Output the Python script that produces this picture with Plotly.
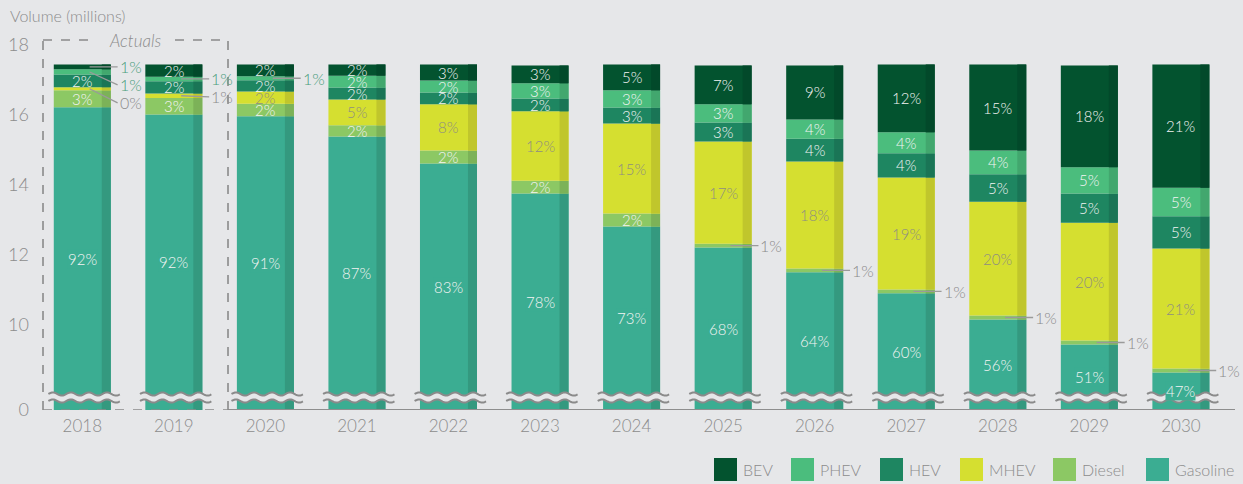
import numpy as np
import plotly.graph_objects as go

# ---------------- data (volumes in millions) ----------------
years = ["2018", "2019", "2020", "2021", "2022", "2023", "2024",
         "2025", "2026", "2027", "2028", "2029", "2030"]

gasoline = [16.21, 16.00, 15.95, 15.37, 14.60, 13.74, 12.80, 12.20, 11.49, 10.89, 10.14, 9.43, 8.63]
diesel   = [0.48, 0.47, 0.36, 0.32, 0.37, 0.37, 0.37, 0.11, 0.11, 0.11, 0.12, 0.11, 0.11]
mhev     = [0.09, 0.13, 0.35, 0.74, 1.32, 1.98, 2.57, 2.92, 3.06, 3.20, 3.25, 3.37, 3.43]
hev      = [0.36, 0.35, 0.32, 0.34, 0.34, 0.37, 0.46, 0.54, 0.65, 0.69, 0.78, 0.83, 0.92]
phev     = [0.15, 0.13, 0.11, 0.34, 0.34, 0.43, 0.49, 0.52, 0.55, 0.60, 0.68, 0.75, 0.82]
bev      = [0.14, 0.35, 0.34, 0.32, 0.46, 0.51, 0.74, 1.11, 1.54, 1.94, 2.46, 2.91, 3.52]

# printed shares (%)
gasoline_pct = [92, 92, 91, 87, 83, 78, 73, 68, 64, 60, 56, 51, 47]
diesel_pct   = [3, 3, 2, 2, 2, 2, 2, 1, 1, 1, 1, 1, 1]
mhev_pct     = [0, 1, 2, 5, 8, 12, 15, 17, 18, 19, 20, 20, 21]
hev_pct      = [2, 2, 2, 2, 2, 2, 3, 3, 4, 4, 5, 5, 5]
phev_pct     = [1, 1, 1, 2, 2, 3, 3, 3, 4, 4, 4, 5, 5]
bev_pct      = [1, 2, 2, 2, 3, 3, 5, 7, 9, 12, 15, 18, 21]

y_tick_values = [10, 12, 14, 16, 18]
actuals_label = "Actuals"
y_title = "Volume (millions)"

# ---------------- styling ----------------
BG = "#e6e7e9"
GRAY = "#8c8c8c"
FONT = "Lato"
FW = 300
series = [  # bottom -> top
    dict(name="Gasoline", vals=gasoline, pct=gasoline_pct, color="#3bad92", side="#34997f", txt="#f4f4f4", out="#8c8c8c"),
    dict(name="Diesel",   vals=diesel,   pct=diesel_pct,   color="#8cc864", side="#7cb258", txt="#f4f4f4", out="#8c8c8c"),
    dict(name="MHEV",     vals=mhev,     pct=mhev_pct,     color="#d5df30", side="#c0c62c", txt="#8e8e80", out="#8c8c8c"),
    dict(name="HEV",      vals=hev,      pct=hev_pct,      color="#1e8661", side="#1a7556", txt="#f4f4f4", out="#4a9e7c"),
    dict(name="PHEV",     vals=phev,     pct=phev_pct,     color="#4bbd7d", side="#42a76e", txt="#f4f4f4", out="#4a9e7c"),
    dict(name="BEV",      vals=bev,      pct=bev_pct,      color="#03532f", side="#02492a", txt="#f4f4f4", out="#4a9e7c"),
]

W, H = 1243, 484
ML, MR, MT, MB = 42, 8, 35, 74
PW, PH = W - ML - MR, H - MT - MB
PX_Y = 35.0      # pixels per million
PX_X = 91.55     # pixels per category
FLOOR = 7.557    # value where the broken axis shows "0"
X0 = -0.44
y_range = [FLOOR, FLOOR + PH / PX_Y]
x_range = [X0, X0 + PW / PX_X]

def xpx(px):
    return X0 + (px - ML) / PX_X

def ypx(py):
    return y_range[1] - (py - MT) / PX_Y

def xp(px):
    return (px - ML) / PW

def yp(py):
    return (H - MB - py) / PH

BW = 57 / PX_X
SW = 9 / PX_X
idx = list(range(len(years)))

fig = go.Figure()
annotations = []
shapes = []

# ---------------- stacked bars ----------------
tops = [FLOOR] * len(years)
mids_all = []
for k, s in enumerate(series):
    if k == 0:
        bases = [FLOOR] * len(years)
        heights = [v - FLOOR for v in s["vals"]]
    else:
        bases = list(tops)
        heights = list(s["vals"])
    new_tops = [b + h for b, h in zip(bases, heights)]
    for w, off, col in ((BW, None, s["color"]), (SW, BW / 2 - SW, s["side"])):
        kw = dict(offset=off) if off is not None else {}
        fig.add_trace(go.Bar(
            x=idx, y=heights, base=bases, width=w, marker_color=col,
            marker_line_width=0, showlegend=False, name=s["name"],
            hoverinfo="skip", **kw))
    mids_all.append([(b + t) / 2 for b, t in zip(bases, new_tops)])
    tops = new_tops

# ---------------- value labels ----------------
outside = {}
for k, s in enumerate(series):
    for i in idx:
        mid = mids_all[k][i]
        label = f"{s['pct'][i]}%"
        if s["vals"][i] < 0.2:
            outside.setdefault(i, []).append((mid, label, s["out"]))
        else:
            extra = dict(bgcolor=s["color"], borderpad=0) if k == 0 else {}
            annotations.append(dict(
                x=i, y=mid, xref="x", yref="y", text=label, showarrow=False,
                xanchor="center", yanchor="middle",
                font=dict(family=FONT, size=15, color=s["txt"], weight=FW), **extra))

# thin segments: label to the right with a leader line, stacked top-down
for i, items in outside.items():
    items.sort(key=lambda t: -t[0])
    prev = None
    for mid, label, col in items:
        mid_py = MT + (y_range[1] - mid) * PX_Y
        lab_py = mid_py if prev is None else max(mid_py, prev + 18)
        prev = lab_py
        annotations.append(dict(
            x=i + 0.08, y=mid, xref="x", yref="y", text=label,
            showarrow=True, arrowhead=0, arrowwidth=1.3, arrowcolor="#9a9a9a",
            ax=28, ay=lab_py - mid_py, xanchor="left", yanchor="middle",
            standoff=0, startstandoff=0,
            font=dict(family=FONT, size=16, color=col, weight=FW)))

# ---------------- axis-break squiggles ----------------
amp = 1.6 / PX_Y
period = 18 / PX_X
for i in idx:
    xs = np.linspace(i - 0.37, i + 0.41, 80)
    wave = amp * np.sin(2 * np.pi * (xs - xs[0]) / period)
    top = ypx(394) + wave
    bot = ypx(401) + wave
    pts_top = [f"{x:.4f},{y:.4f}" for x, y in zip(xs, top)]
    pts_bot = [f"{x:.4f},{y:.4f}" for x, y in zip(xs[::-1], bot[::-1])]
    shapes.append(dict(type="path", xref="x", yref="y", layer="above",
                       path="M" + " L".join(pts_top + pts_bot) + " Z",
                       fillcolor=BG, line=dict(width=0)))
    for yy in (top, bot):
        shapes.append(dict(type="path", xref="x", yref="y", layer="above",
                           path="M" + " L".join(f"{x:.4f},{y:.4f}" for x, y in zip(xs, yy)),
                           line=dict(color="#8a8a8a", width=2)))

# ---------------- axis line and "Actuals" box ----------------
shapes.append(dict(type="line", xref="x", yref="y", x0=xpx(228), x1=x_range[1],
                   y0=FLOOR, y1=FLOOR, line=dict(color="#8e8e8e", width=2)))
dash = dict(color="#8a8a8a", width=1.6, dash="dash")
bx0, bx1, by0, by1 = xpx(43), xpx(228), FLOOR, ypx(40)
shapes += [
    dict(type="line", xref="x", yref="y", x0=bx0, x1=bx0, y0=by0, y1=by1, line=dash),
    dict(type="line", xref="x", yref="y", x0=bx1, x1=bx1, y0=by0, y1=by1, line=dash),
    dict(type="line", xref="x", yref="y", x0=bx0, x1=bx1, y0=by0, y1=by0, line=dash),
    dict(type="line", xref="x", yref="y", x0=bx0, x1=xpx(96), y0=by1, y1=by1, line=dash),
    dict(type="line", xref="x", yref="y", x0=xpx(175), x1=bx1, y0=by1, y1=by1, line=dash),
]
annotations.append(dict(x=xpx(135), y=by1, xref="x", yref="y", text=f"<i>{actuals_label}</i>",
                        showarrow=False, xanchor="center", yanchor="middle",
                        font=dict(family=FONT, size=17, color=GRAY, weight=FW)))

annotations.append(dict(x=xp(8), y=yp(15), xref="paper", yref="paper", text=y_title,
                        showarrow=False, xanchor="left", yanchor="middle",
                        font=dict(family=FONT, size=16, color=GRAY, weight=FW)))

# ---------------- manual legend ----------------
legend_px = [714, 791, 880, 960, 1053, 1146]
for s, lx in zip(series[::-1], legend_px):
    shapes.append(dict(type="rect", xref="paper", yref="paper",
                       x0=xp(lx), x1=xp(lx + 23), y0=yp(481), y1=yp(458),
                       fillcolor=s["color"], line=dict(width=0)))
    annotations.append(dict(x=xp(lx + 27), y=yp(470), xref="paper", yref="paper",
                            text=s["name"], showarrow=False, xanchor="left", yanchor="middle",
                            font=dict(family=FONT, size=16, color=GRAY, weight=FW)))

fig.update_layout(
    width=W, height=H, margin=dict(l=ML, r=MR, t=MT, b=MB),
    paper_bgcolor=BG, plot_bgcolor=BG, barmode="overlay", showlegend=False,
    font=dict(family=FONT, color=GRAY, weight=FW),
    xaxis=dict(range=x_range, tickmode="array", tickvals=idx, ticktext=years,
               showgrid=False, zeroline=False, showline=False, ticks="",
               ticklabelstandoff=4, tickfont=dict(family=FONT, size=17, color=GRAY, weight=FW)),
    yaxis=dict(range=y_range, tickmode="array", tickvals=[FLOOR] + y_tick_values,
               ticktext=["0"] + [str(v) for v in y_tick_values],
               showgrid=False, zeroline=False, showline=False, ticks="",
               ticklabelstandoff=12, tickfont=dict(family=FONT, size=18, color=GRAY, weight=FW)),
    shapes=shapes, annotations=annotations,
)

fig.write_html("out.html", config={"displayModeBar": False},
               post_script="document.body.style.margin='0';document.body.style.overflow='hidden';")
